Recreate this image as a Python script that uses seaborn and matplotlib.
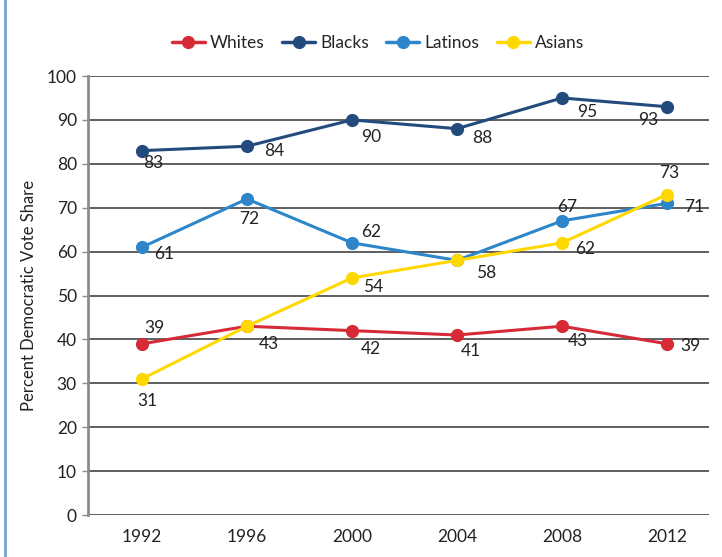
import matplotlib
matplotlib.use("Agg")
import matplotlib.pyplot as plt
from matplotlib.lines import Line2D
import seaborn as sns
import pandas as pd

years = ["1992", "1996", "2000", "2004", "2008", "2012"]
groups = ["Whites", "Blacks", "Latinos", "Asians"]
whites = [39, 43, 42, 41, 43, 39]
blacks = [83, 84, 90, 88, 95, 93]
latinos = [61, 72, 62, 58, 67, 71]
asians = [31, 43, 54, 58, 62, 73]
colors = ["#D62A36", "#234A7C", "#2C86C9", "#FFD800"]

# label offsets (pixels) for each value label, per group
offsets = {
    "Whites": [(12, 16), (22, -18), (19, -18), (14, -16), (16, -15), (23, -2)],
    "Blacks": [(11, -12), (27, -5), (19, -17), (25, -9), (25, -14), (-19, -13)],
    "Latinos": [(22, -7), (2, -20), (19, 11), (29, -13), (5, 14), (27, -4)],
    "Asians": [(5, -22), (19, -13), (21, -9), (28, -8), (23, -6), (2, 22)],
}

series = {"Whites": whites, "Blacks": blacks, "Latinos": latinos, "Asians": asians}
df = pd.DataFrame(
    [(i, g, v) for g in groups for i, v in enumerate(series[g])],
    columns=["idx", "group", "value"],
)

sns.set_style("white")
plt.rcParams["font.family"] = ["Lato", "DejaVu Sans"]

fig = plt.figure(figsize=(7.22, 5.57), dpi=100)
ax = fig.add_axes([88 / 722, 1 - 515 / 557, (709 - 88) / 722, (515 - 76) / 557])

palette = dict(zip(groups, colors))
sns.lineplot(
    data=df, x="idx", y="value", hue="group", hue_order=groups, palette=palette,
    marker="o", markersize=9.5, markeredgewidth=0, linewidth=2.2, ax=ax, legend=False,
    zorder=3,
)

# one label per distinct (year, value) point; coinciding points share a label
labelled = set()
for g in groups:
    for i, v in enumerate(series[g]):
        if (i, v) in labelled:
            continue
        labelled.add((i, v))
        dx, dy = offsets[g][i]
        ax.annotate(str(v), (i, v), xytext=(dx, dy), textcoords="offset pixels",
                    ha="center", va="center", fontsize=12.5, color="#222222", zorder=5)

ax.set_xlim(-0.514, 5.4)
ax.set_ylim(0, 100)
ax.set_yticks(range(0, 101, 10))
ax.set_xticks(range(len(years)))
ax.set_xticklabels(years)
ax.yaxis.grid(True, color="#333333", linewidth=1.1)
ax.xaxis.grid(False)
ax.set_axisbelow(True)
for side in ["top", "right", "bottom"]:
    ax.spines[side].set_visible(False)
ax.spines["left"].set_color("#8c8c8c")
ax.spines["left"].set_linewidth(2)
ax.tick_params(axis="y", length=4, color="#8c8c8c", width=1, labelsize=12.5,
               labelcolor="#222222", pad=4, left=True)
ax.tick_params(axis="x", length=0, labelsize=12.5, labelcolor="#222222", pad=10)
ax.set_xlabel("")
ax.set_ylabel("Percent Democratic Vote Share", fontsize=12, color="#222222", labelpad=7)

handles = [Line2D([0], [0], color=c, marker="o", markersize=9.5, markeredgewidth=0,
                  linewidth=2.5) for c in colors]
fig.legend(handles, groups, loc="center", bbox_to_anchor=(378 / 722, 1 - 43 / 557),
           ncol=4, frameon=False, fontsize=12.5, handlelength=1.9, handletextpad=0.3,
           columnspacing=1.0)

fig.add_artist(Line2D([5 / 722, 5 / 722], [0, 1], transform=fig.transFigure,
                      color="#6FA3D6", linewidth=2))

fig.savefig("out.png", dpi=100, facecolor="white")
